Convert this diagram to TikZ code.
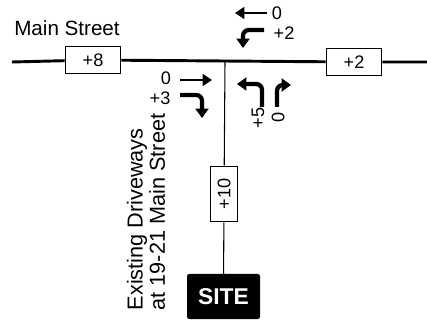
\documentclass[tikz,border=0pt]{standalone}
\usepackage{fontspec}
\setmainfont{Liberation Sans}
\usetikzlibrary{arrows.meta}

\begin{document}
\begin{tikzpicture}[
    x=0.03cm, y=-0.03cm,
    road/.style={line width=2.5pt},
    drive/.style={line width=0.9pt},
    volbox/.style={rectangle, draw, fill=white, line width=0.9pt, minimum width=1.67cm, minimum height=0.83cm, inner sep=0pt, font=\fontsize{15.5}{18}\selectfont},
    vol/.style={inner sep=0pt, font=\fontsize{15.5}{18}\selectfont},
    thru/.style={line width=2.5pt, -{Triangle[length=8pt,width=10pt]}},
    turn/.style={line width=3.6pt, rounded corners=5pt, -{Triangle[length=8pt,width=11pt]}}
]
\useasboundingbox (0,0) rectangle (427,321);

% Main Street and the site driveway
\coordinate (west) at (12,62);
\coordinate (east) at (427,62);
\coordinate (junction) at (225,62);
\node[inner sep=0pt, font=\fontsize{17.6}{20}\selectfont] (mainst) at (67,28) {Main Street};
\node[volbox] (eastbound) at (93,60) {+8};
\node[volbox] (westbound) at (354,62) {+2};
\node[volbox, rotate=90] (driveway) at (224,194) {+10};
\node[rectangle, fill=black, text=white, rounded corners=2pt, minimum width=2.19cm, minimum height=1.35cm, font=\fontsize{19.5}{22}\selectfont\bfseries] (site) at (223.5,296.5) {SITE};
\node[inner sep=0pt, rotate=90, align=left, font=\fontsize{18.5}{19}\selectfont] (drives) at (146,212) {Existing Driveways\\at 19-21 Main Street};

\draw[road] (west) -- (eastbound) -- (westbound) -- (east);
\draw[drive] (junction) -- (driveway) -- (site);

% turning movements
\node[vol] (ebthru) at (166,78) {0};
\node[vol] (ebright) at (160,98) {+3};
\draw[thru] (180,80) -- (212,80);
\draw[turn] (180,95) -- (202,95) -- (202,118);

\node[vol] (wbthru) at (277,13) {0};
\node[vol] (wbleft) at (284,33) {+2};
\draw[thru] (267,13) -- (235,13);
\draw[turn] (264,30) -- (243,30) -- (243,48);

\node[vol, rotate=90] (nbleft) at (258,118) {+5};
\node[vol, rotate=90] (nbright) at (278,117) {0};
\draw[turn] (262,107) -- (262,84) -- (237,84);
\draw[turn] (277,107) -- (277,85) -- (291,85);
\end{tikzpicture}
\end{document}
